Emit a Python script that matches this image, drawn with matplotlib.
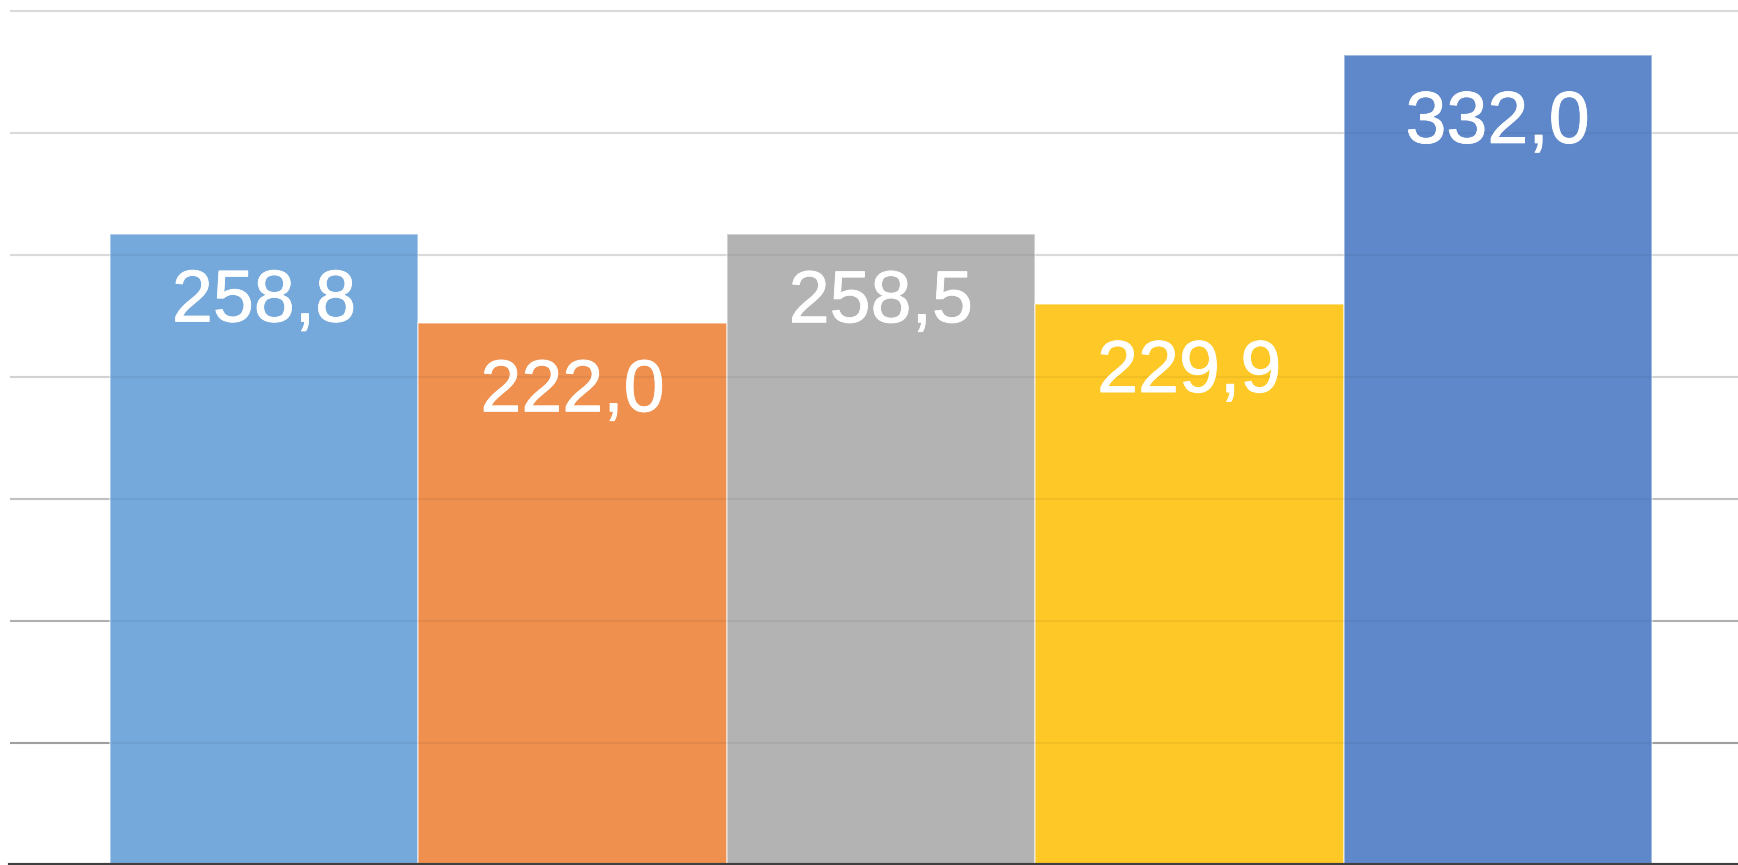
import matplotlib
matplotlib.use("Agg")
import matplotlib.pyplot as plt
import matplotlib.patheffects as pe

categories = ["A", "B", "C", "D", "E"]
values = [258.8, 222.0, 258.5, 229.9, 332.0]
labels = ["258,8", "222,0", "258,5", "229,9", "332,0"]
colors = ["#75a9db", "#ef904e", "#b3b3b3", "#fec926", "#5f88cb"]
grid_vals = [50, 100, 150, 200, 250, 300, 350]
grid_cols = ["#a8a8a8", "#bababa", "#cccccc", "#dedede", "#e6e6e6", "#e6e6e6", "#e6e6e6"]

W, H, DPI = 1738, 865, 100
fig = plt.figure(figsize=(W / DPI, H / DPI), dpi=DPI)
ax = fig.add_axes([10 / W, 0, (W - 10) / W, 1])

x = list(range(len(categories)))
ax.bar(x, values, width=1.0, color=colors, edgecolor=(1, 1, 1, 0.5), linewidth=1.2, zorder=2)

for gv, gc in zip(grid_vals, grid_cols):
    ax.axhline(gv, color=gc, linewidth=1.5, zorder=1)
    ax.axhline(gv, color="black", alpha=0.05, linewidth=1.5, zorder=3)

for xi, v, lab in zip(x, values, labels):
    ax.annotate(lab, (xi, v), xytext=(0, -88 * 72 / DPI), textcoords="offset points",
                ha="center", va="baseline", color="white", fontsize=53,
                family="Liberation Sans", zorder=4,
                path_effects=[pe.withStroke(linewidth=0.6, foreground="white")])

ax.set_xlim(-0.5 - 100 / 308, 4 + 240 / 308)
ax.set_ylim(0, 865 / 2.44)
for s in ["top", "right", "left"]:
    ax.spines[s].set_visible(False)
ax.spines["bottom"].set_color("#404040")
ax.spines["bottom"].set_linewidth(3)
ax.spines["bottom"].set_zorder(5)
ax.set_xticks([])
ax.set_yticks([])
fig.savefig("out.png", dpi=DPI)
